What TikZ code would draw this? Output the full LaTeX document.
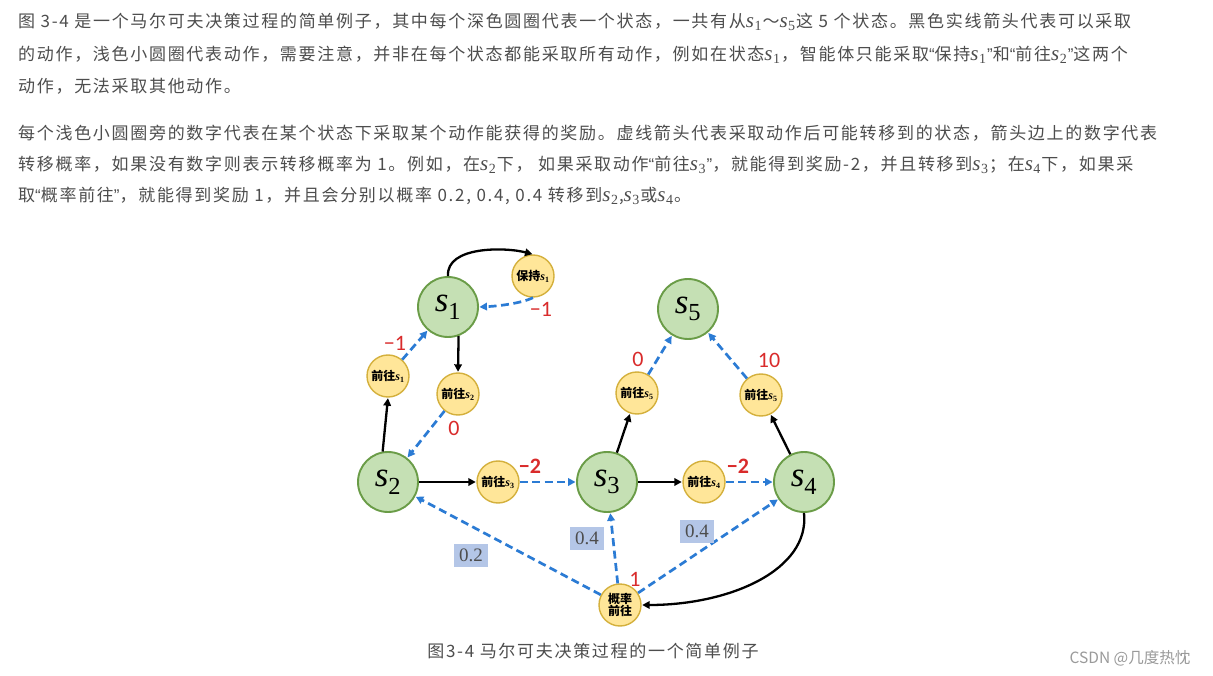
\documentclass[tikz,border=0pt]{standalone}
\usepackage{fontspec}
\setmainfont{Liberation Sans}
\newfontfamily\cjk[LetterSpace=10]{Noto Sans CJK SC}
\newfontfamily\cjkb{Noto Sans CJK SC}
\newfontfamily\lserif{Liberation Serif}
\newfontfamily\lsans{Liberation Sans}
\newfontfamily\calib{Carlito}
\newcommand\sv[1]{{\lserif\itshape s}\textsubscript{\lserif #1}}
\newcommand\svp[1]{{\lserif\itshape\fontsize{21}{21}\selectfont s\kern0.5pt}\raisebox{-3.5pt}{\lserif\fontsize{14}{14}\selectfont #1}\kern1pt}
\newcommand\oq{{\lsans “}}
\newcommand\cq{{\lsans ”}}
\usetikzlibrary{arrows.meta}
\definecolor{txt}{HTML}{4D4D4D}
\definecolor{sfill}{HTML}{C5E0B4}
\definecolor{sdraw}{HTML}{6A9C47}
\definecolor{afill}{HTML}{FFE699}
\definecolor{adraw}{HTML}{D4B03C}
\definecolor{arrblue}{HTML}{2B7BD4}
\definecolor{rwd}{HTML}{D92B2B}
\definecolor{pbox}{HTML}{B4C6E7}
\definecolor{wm}{HTML}{9A9A9A}
\tikzset{
  state/.style={circle, fill=sfill, draw=sdraw, line width=1.9pt, minimum size=60pt, inner sep=0pt, font=\fontsize{35}{35}\selectfont},
  act/.style={circle, fill=afill, draw=adraw, line width=1.4pt, minimum size=42pt, inner sep=0pt, font=\cjkb\bfseries\fontsize{12}{13}\selectfont, align=center},
  choose/.style={-{Triangle[length=7.5pt,width=7.5pt]}, line width=2.3pt, black, shorten >=0.5pt},
  trans/.style={-{Triangle[length=7.5pt,width=7.5pt]}, line width=2.7pt, arrblue, dash pattern=on 8pt off 4.5pt, shorten >=0.5pt},
  rew/.style={text=rwd, font=\calib\fontsize{22}{22}\selectfont, inner sep=0pt},
  rewb/.style={text=rwd, font=\calib\bfseries\fontsize{22}{22}\selectfont, inner sep=0pt},
  prob/.style={fill=pbox, text=txt, font=\lserif\fontsize{19}{19}\selectfont, inner sep=0pt, minimum width=34pt, minimum height=23pt},
  para/.style={anchor=west, text=txt, inner sep=0pt, font=\cjk\fontsize{17}{20}\selectfont},
}
\begin{document}
\begin{tikzpicture}[x=1pt, y=-1pt]
\useasboundingbox[fill=white] (0,0) rectangle (1213,676);
% text paragraphs
\node[para] (p1) at (18,22) {图 3-4 是一个马尔可夫决策过程的简单例子，其中每个深色圆圈代表一个状态，一共有从\svp{1}～\svp{5}这 5 个状态。黑色实线箭头代表可以采取};
\node[para] (p2) at (18,55) {的动作，浅色小圆圈代表动作，需要注意，并非在每个状态都能采取所有动作，例如在状态\svp{1}，智能体只能采取\oq 保持\svp{1}\cq 和\oq 前往\svp{2}\cq 这两个};
\node[para] (p3) at (18,86) {动作，无法采取其他动作。};
\node[para] (q1) at (18,133) {每个浅色小圆圈旁的数字代表在某个状态下采取某个动作能获得的奖励。虚线箭头代表采取动作后可能转移到的状态，箭头边上的数字代表};
\node[para] (q2) at (18,165) {转移概率，如果没有数字则表示转移概率为 1。例如，在\svp{2}下， 如果采取动作\oq 前往\svp{3}\cq ，就能得到奖励-2，并且转移到\svp{3}；在\svp{4}下，如果采};
\node[para] (q3) at (18,196) {取\oq 概率前往\cq ，就能得到奖励 1，并且会分别以概率 0.2, 0.4, 0.4 转移到\svp{2},\svp{3}或\svp{4}。};
% states
\node[state] (s1) at (448,307) {\sv{1}};
\node[state] (s2) at (388,482) {\sv{2}};
\node[state] (s3) at (607,482) {\sv{3}};
\node[state] (s4) at (804,482) {\sv{4}};
\node[state] (s5) at (688,309) {\sv{5}};
% actions
\node[act] (keep) at (533,276) {保持\sv{1}};
\node[act] (go1) at (388,376) {前往\sv{1}};
\node[act] (go2) at (458,394) {前往\sv{2}};
\node[act] (go3) at (498,482) {前往\sv{3}};
\node[act] (go4) at (704,482) {前往\sv{4}};
\node[act] (go5a) at (637,393) {前往\sv{5}};
\node[act] (go5b) at (761,395) {前往\sv{5}};
\node[act] (pgo) at (620,605) {概率\\[-1pt]前往};
% choices
\draw[choose] (s1.north) .. controls (446,246) and (505,247) .. (keep.north);
\draw[choose] (s1.-70) -- (go2.north);
\draw[choose] (s2.100) -- (go1.south);
\draw[choose] (s2) -- (go3);
\draw[choose] (s3) -- (go4);
\draw[choose] (s3) -- (go5a);
\draw[choose] (s4) -- (go5b);
\draw[choose] (s4.south) .. controls (810,570) and (730,605) .. (pgo.east);
% transitions
\draw[trans] (keep.south) .. controls (522,303) and (500,306) .. (s1.east);
\draw[trans] (go1) -- (s1);
\draw[trans] (go2) -- (s2);
\draw[trans] (go3) -- (s3);
\draw[trans] (go4) -- (s4);
\draw[trans] (go5a) -- (s5);
\draw[trans] (go5b) -- (s5);
\draw[trans] (pgo) -- (s2);
\draw[trans] (pgo) -- (s3);
\draw[trans] (pgo) -- (s4);
% rewards
\node[rew] (r1) at (541,309) {−1};
\node[rew] (r2) at (395,343) {−1};
\node[rew] (r3) at (454,428) {0};
\node[rewb] (r4) at (530,466) {−2};
\node[rewb] (r5) at (738,466) {−2};
\node[rew] (r6) at (638,359) {0};
\node[rew] (r7) at (769,360) {10};
\node[rew] (r8) at (635,579) {1};
% probabilities
\node[prob] (pr1) at (471,555) {0.2};
\node[prob] (pr2) at (587,538) {0.4};
\node[prob] (pr3) at (697,531) {0.4};
% caption
\node[text=txt, font=\cjk\fontsize{17}{20}\selectfont, inner sep=0pt] (cap) at (593,651) {图3-4 马尔可夫决策过程的一个简单例子};
\node[text=wm, font=\cjkb\fontsize{15.5}{17}\selectfont, inner sep=0pt] (wmk) at (1130,658) {CSDN @几度热忱};
\end{tikzpicture}
\end{document}
